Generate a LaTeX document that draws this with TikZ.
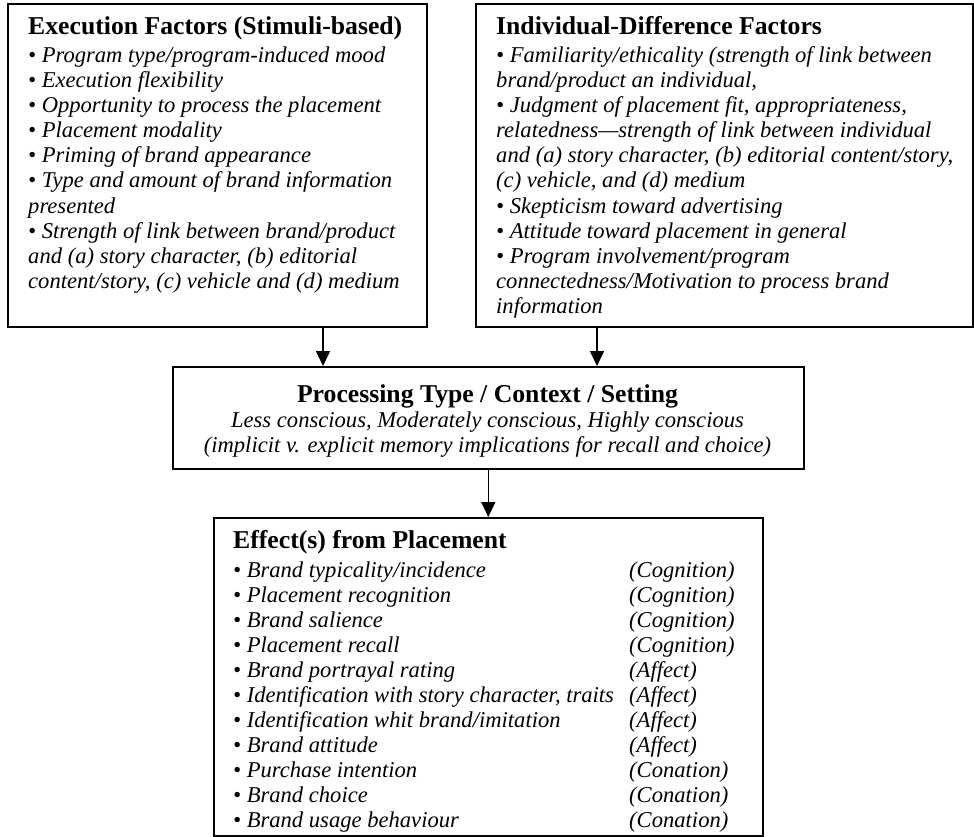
\documentclass[tikz,border=0pt]{standalone}
\usepackage{fontspec}
\setmainfont{Liberation Serif}
\usetikzlibrary{arrows.meta}
\tikzset{
  box/.style={draw=black, line width=1.6pt, inner sep=0pt, anchor=north west},
  ttl/.style={font=\fontsize{25.7}{28}\selectfont\bfseries, anchor=base west, inner sep=0pt},
  itm/.style={font=\fontsize{22.6}{25}\selectfont\itshape, anchor=base west, inner sep=0pt},
  arr/.style={line width=1.6pt, -{Triangle[length=15pt,width=14pt]}},
}
\begin{document}
\begin{tikzpicture}[x=1pt,y=-1pt]
\useasboundingbox (0,0) rectangle (974,837);
% boxes
\node[box, minimum width=419pt, minimum height=323pt] (exec) at (7,3) {};
\node[box, minimum width=497pt, minimum height=323pt] (indiv) at (475,3) {};
\node[box, minimum width=631pt, minimum height=102pt] (proc) at (172,366) {};
\node[box, minimum width=549pt, minimum height=318pt] (eff) at (213,517) {};
% box 1 text
\node[ttl] (exect) at (28,35) {Execution Factors (Stimuli-based)};
\foreach \t [count=\i from 0] in {
  {• Program type/program-induced mood},
  {• Execution flexibility},
  {• Opportunity to process the placement},
  {• Placement modality},
  {• Priming of brand appearance},
  {• Type and amount of brand information},
  {presented},
  {• Strength of link between brand/product},
  {and (a) story character, (b) editorial},
  {content/story, (c) vehicle and (d) medium}}
  {\node[itm] (ex\i) at (28,{63+25*\i}) {\t};}
% box 2 text
\node[ttl] (indivt) at (496,35) {Individual-Difference Factors};
\foreach \t [count=\i from 0] in {
  {• Familiarity/ethicality (strength of link between},
  {brand/product an individual,},
  {• Judgment of placement fit, appropriateness,},
  {relatedness—strength of link between individual},
  {and (a) story character, (b) editorial content/story,},
  {(c) vehicle, and (d) medium},
  {• Skepticism toward advertising},
  {• Attitude toward placement in general},
  {• Program involvement/program},
  {connectedness/Motivation to process brand},
  {information}}
  {\node[itm] (in\i) at (496,{63+25*\i}) {\t};}
% box 3 text
\node[ttl, anchor=base] (proct) at (487.5,402) {Processing Type / Context / Setting};
\node[itm, anchor=base] (proc1) at (487.5,427) {Less conscious, Moderately conscious, Highly conscious};
\node[itm, anchor=base] (proc2) at (487.5,452) {(implicit v. explicit memory implications for recall and choice)};
% box 4 text
\node[ttl] (efft) at (233,548) {Effect(s) from Placement};
\foreach \t/\c [count=\i from 0] in {
  {• Brand typicality/incidence}/{(Cognition)},
  {• Placement recognition}/{(Cognition)},
  {• Brand salience}/{(Cognition)},
  {• Placement recall}/{(Cognition)},
  {• Brand portrayal rating}/{(Affect)},
  {• Identification with story character, traits}/{(Affect)},
  {• Identification whit brand/imitation}/{(Affect)},
  {• Brand attitude}/{(Affect)},
  {• Purchase intention}/{(Conation)},
  {• Brand choice}/{(Conation)},
  {• Brand usage behaviour}/{(Conation)}}
  {\node[itm] (ef\i) at (233,{577+25*\i}) {\t};
   \node[itm] (ec\i) at (629,{577+25*\i}) {\c};}
% arrows
\coordinate (a1) at (323,0);
\coordinate (a2) at (597,0);
\draw[arr] (a1 |- exec.south) -- (a1 |- proc.north);
\draw[arr] (a2 |- indiv.south) -- (a2 |- proc.north);
\draw[arr] (proc.south) -- (eff.north);
\end{tikzpicture}
\end{document}
